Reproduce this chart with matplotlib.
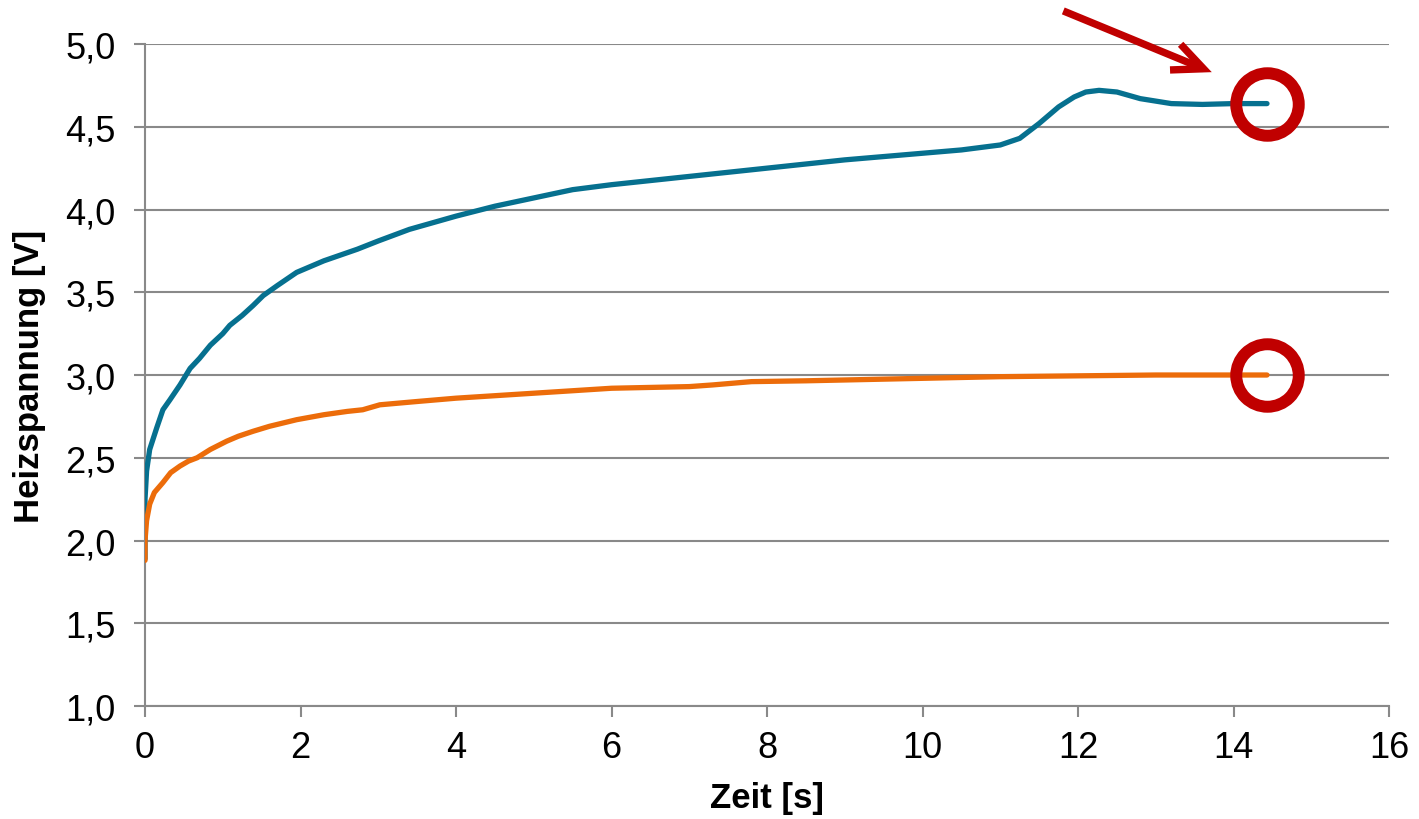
import matplotlib.pyplot as plt
from matplotlib.ticker import FuncFormatter

plt.rcParams['font.family'] = ['Liberation Sans', 'DejaVu Sans']

zeit_blau = [0.0, 0.0, 0.02, 0.06, 0.15, 0.23, 0.32, 0.45, 0.58, 0.7, 0.84, 1.0, 1.09,
             1.25, 1.39, 1.52, 1.7, 1.95, 2.3, 2.73, 3.0, 3.4, 4.0, 4.5, 5.0, 5.5, 6.0,
             7.0, 8.0, 9.0, 10.0, 10.5, 11.0, 11.25, 11.5, 11.75, 11.95, 12.1, 12.27,
             12.5, 12.8, 13.2, 13.6, 14.0, 14.43]
spannung_blau = [1.89, 2.25, 2.42, 2.55, 2.68, 2.79, 2.85, 2.94, 3.04, 3.1, 3.18, 3.25,
                 3.30, 3.36, 3.42, 3.48, 3.54, 3.62, 3.69, 3.76, 3.81, 3.88, 3.96, 4.02,
                 4.07, 4.12, 4.15, 4.20, 4.25, 4.30, 4.34, 4.36, 4.39, 4.43, 4.52, 4.62,
                 4.68, 4.71, 4.72, 4.71, 4.67, 4.64, 4.635, 4.64, 4.64]

zeit_orange = [0.0, 0.0, 0.02, 0.06, 0.12, 0.23, 0.33, 0.45, 0.56, 0.67, 0.84, 1.05,
               1.2, 1.39, 1.6, 1.95, 2.3, 2.6, 2.8, 3.02, 3.5, 4.0, 5.0, 6.0, 7.0, 7.3,
               7.8, 8.5, 9.0, 10.0, 11.0, 12.0, 13.0, 14.43]
spannung_orange = [1.88, 2.0, 2.12, 2.22, 2.29, 2.35, 2.41, 2.45, 2.48, 2.5, 2.55, 2.6,
                   2.63, 2.66, 2.69, 2.73, 2.76, 2.78, 2.79, 2.82, 2.84, 2.86, 2.89,
                   2.92, 2.93, 2.94, 2.96, 2.965, 2.97, 2.98, 2.99, 2.995, 3.0, 3.0]

blau = '#06708F'
orange = '#EC6C0A'
rot = '#C00000'
grau = '#898989'

fig = plt.figure(figsize=(14.19, 8.2), dpi=100)
ax = fig.add_axes([0.1022, 0.1378, 0.8767, 0.8073])

ax.plot(zeit_blau, spannung_blau, color=blau, lw=3.8, solid_capstyle='round',
        solid_joinstyle='round', zorder=3)
ax.plot(zeit_orange, spannung_orange, color=orange, lw=3.8, solid_capstyle='round',
        solid_joinstyle='round', zorder=3)

# Markierungen an den Endwerten
for t, u in [(zeit_blau[-1], spannung_blau[-1]), (zeit_orange[-1], spannung_orange[-1])]:
    ax.plot([t], [u], marker='o', ms=45, mfc='none', mec=rot, mew=8.6,
            clip_on=False, zorder=4)

# Pfeil
ax.annotate('', xy=(zeit_blau[-1] - 0.71, spannung_blau[-1] + 0.19),
            xytext=(zeit_blau[-1] - 2.62, spannung_blau[-1] + 0.56),
            arrowprops=dict(arrowstyle='->,head_length=1.1,head_width=0.5',
                            mutation_scale=20, color=rot, lw=5.3,
                            shrinkA=0, shrinkB=0, capstyle='butt', joinstyle='miter'),
            annotation_clip=False)

ax.set_xlim(0, 16)
ax.set_ylim(1.0, 5.0)
ax.set_xticks(range(0, 17, 2))
ax.set_yticks([1.0, 1.5, 2.0, 2.5, 3.0, 3.5, 4.0, 4.5, 5.0])
ax.yaxis.set_major_formatter(FuncFormatter(lambda v, p: f'{v:.1f}'.replace('.', ',')))

ax.grid(axis='y', color=grau, lw=1.5)
ax.set_axisbelow(True)
for s in ['top', 'right']:
    ax.spines[s].set_visible(False)
for s in ['left', 'bottom']:
    ax.spines[s].set_color(grau)
    ax.spines[s].set_linewidth(1.5)
ax.tick_params(axis='both', colors=grau, width=1.5, length=8, labelsize=26,
               labelcolor='black', direction='out')
ax.tick_params(axis='x', pad=9)
ax.tick_params(axis='y', pad=13)

ax.set_xlabel('Zeit [s]', fontsize=25, fontweight='bold', labelpad=12)
ax.set_ylabel('Heizspannung [V]', fontsize=25, fontweight='bold', labelpad=14)

fig.savefig('out.png', dpi=100)
